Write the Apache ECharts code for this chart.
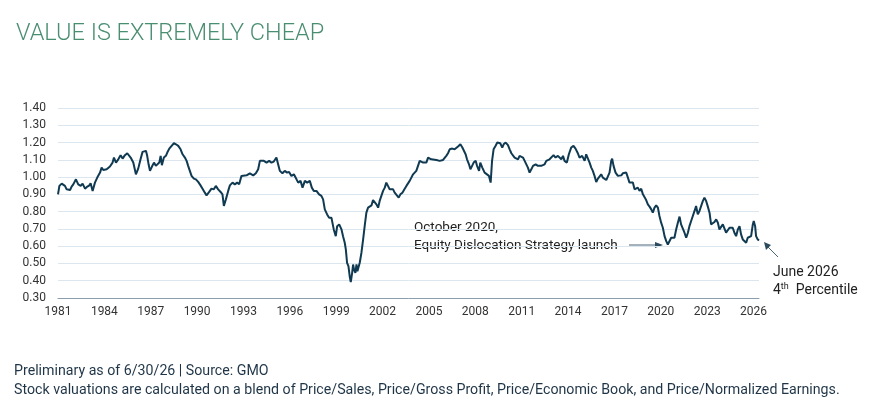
<!DOCTYPE html>
<html>
<head>
<meta charset="utf-8">
<script src="https://cdn.jsdelivr.net/npm/echarts@6/dist/echarts.min.js"></script>
<style>
  html, body { margin: 0; padding: 0; background: #fff; }
  #chart { width: 877px; height: 410px; }
</style>
</head>
<body>
<div id="chart"></div>
<script>
// composite valuation (decimal years)
var years = [
  1981.00, 1981.09, 1981.24, 1981.45, 1981.56, 1981.67, 1981.78, 1981.88, 1981.99, 1982.16,
  1982.31, 1982.47, 1982.59, 1982.75, 1982.90, 1983.03, 1983.11, 1983.24, 1983.39, 1983.54,
  1983.72, 1983.82, 1983.93, 1984.15, 1984.36, 1984.53, 1984.62, 1984.75, 1984.90, 1985.05,
  1985.18, 1985.33, 1985.48, 1985.59, 1985.70, 1985.87, 1986.04, 1986.19, 1986.34, 1986.47,
  1986.69, 1986.77, 1986.86, 1986.95, 1987.08, 1987.21, 1987.33, 1987.42, 1987.55, 1987.64,
  1987.72, 1987.85, 1987.98, 1988.07, 1988.20, 1988.35, 1988.50, 1988.63, 1988.78, 1988.93,
  1989.06, 1989.21, 1989.32, 1989.42, 1989.53, 1989.64, 1989.79, 1989.92, 1990.07, 1990.22,
  1990.35, 1990.50, 1990.61, 1990.78, 1990.93, 1991.08, 1991.21, 1991.36, 1991.52, 1991.64,
  1991.73, 1991.86, 1992.01, 1992.12, 1992.29, 1992.44, 1992.59, 1992.72, 1992.87, 1992.98,
  1993.20, 1993.41, 1993.63, 1993.80, 1993.95, 1994.06, 1994.17, 1994.32, 1994.49, 1994.66,
  1994.81, 1994.96, 1995.13, 1995.24, 1995.35, 1995.52, 1995.67, 1995.82, 1995.95, 1996.10,
  1996.26, 1996.43, 1996.54, 1996.69, 1996.82, 1996.97, 1997.12, 1997.29, 1997.42, 1997.55,
  1997.72, 1997.89, 1998.04, 1998.15, 1998.26, 1998.41, 1998.54, 1998.69, 1998.84, 1998.97,
  1999.06, 1999.19, 1999.34, 1999.44, 1999.55, 1999.62, 1999.70, 1999.79, 1999.87, 1999.94,
  2000.03, 2000.09, 2000.15, 2000.24, 2000.31, 2000.37, 2000.46, 2000.52, 2000.63, 2000.74,
  2000.84, 2000.95, 2001.06, 2001.17, 2001.28, 2001.38, 2001.49, 2001.60, 2001.71, 2001.81,
  2001.92, 2002.03, 2002.14, 2002.24, 2002.35, 2002.46, 2002.57, 2002.68, 2002.78, 2002.89,
  2003.04, 2003.15, 2003.28, 2003.43, 2003.54, 2003.65, 2003.75, 2003.86, 2003.97, 2004.08,
  2004.18, 2004.29, 2004.40, 2004.51, 2004.62, 2004.72, 2004.83, 2004.94, 2005.05, 2005.15,
  2005.26, 2005.48, 2005.69, 2005.91, 2006.02, 2006.12, 2006.23, 2006.34, 2006.51, 2006.66,
  2006.88, 2007.03, 2007.16, 2007.24, 2007.37, 2007.46, 2007.59, 2007.68, 2007.80, 2007.89,
  2008.02, 2008.11, 2008.24, 2008.32, 2008.45, 2008.60, 2008.71, 2008.88, 2008.99, 2009.08,
  2009.18, 2009.31, 2009.42, 2009.53, 2009.61, 2009.74, 2009.83, 2009.96, 2010.11, 2010.22,
  2010.33, 2010.43, 2010.54, 2010.65, 2010.76, 2010.86, 2010.97, 2011.08, 2011.19, 2011.29,
  2011.40, 2011.51, 2011.62, 2011.73, 2011.90, 2012.05, 2012.16, 2012.26, 2012.37, 2012.48,
  2012.59, 2012.70, 2012.80, 2012.91, 2013.06, 2013.19, 2013.34, 2013.45, 2013.56, 2013.67,
  2013.77, 2013.92, 2014.05, 2014.20, 2014.35, 2014.48, 2014.63, 2014.74, 2014.91, 2015.07,
  2015.17, 2015.28, 2015.39, 2015.50, 2015.60, 2015.71, 2015.82, 2015.93, 2016.03, 2016.14,
  2016.25, 2016.36, 2016.47, 2016.57, 2016.68, 2016.79, 2016.85, 2016.94, 2017.07, 2017.22,
  2017.33, 2017.44, 2017.54, 2017.65, 2017.76, 2017.87, 2017.97, 2018.08, 2018.19, 2018.30,
  2018.41, 2018.51, 2018.62, 2018.73, 2018.84, 2018.94, 2019.05, 2019.16, 2019.27, 2019.38,
  2019.48, 2019.59, 2019.70, 2019.81, 2019.91, 2020.02, 2020.13, 2020.24, 2020.35, 2020.45,
  2020.56, 2020.67, 2020.78, 2020.88, 2020.99, 2021.10, 2021.21, 2021.31, 2021.42, 2021.53,
  2021.64, 2021.75, 2021.85, 2021.96, 2022.07, 2022.18, 2022.28, 2022.39, 2022.50, 2022.61,
  2022.72, 2022.82, 2022.93, 2023.04, 2023.15, 2023.25, 2023.36, 2023.47, 2023.58, 2023.69,
  2023.79, 2023.90, 2024.01, 2024.12, 2024.22, 2024.33, 2024.44, 2024.55, 2024.65, 2024.76,
  2024.87, 2024.98, 2025.09, 2025.19, 2025.30, 2025.41, 2025.52, 2025.62, 2025.73, 2025.84,
  2025.95, 2026.01, 2026.10, 2026.16, 2026.27, 2026.35
];
var values = [
  0.900, 0.949, 0.962, 0.949, 0.929, 0.939, 0.925, 0.945, 0.958, 0.987,
  0.958, 0.949, 0.962, 0.933, 0.945, 0.952, 0.964, 0.920, 0.968, 0.997,
  1.026, 1.055, 1.041, 1.045, 1.061, 1.084, 1.113, 1.084, 1.103, 1.127,
  1.107, 1.127, 1.138, 1.146, 1.113, 1.084, 1.016, 1.049, 1.103, 1.146,
  1.152, 1.123, 1.074, 1.036, 1.061, 1.084, 1.065, 1.055, 1.084, 1.123,
  1.069, 1.113, 1.123, 1.142, 1.165, 1.181, 1.196, 1.190, 1.181, 1.161,
  1.132, 1.113, 1.094, 1.065, 1.036, 1.007, 0.991, 0.987, 0.972, 0.952,
  0.933, 0.910, 0.894, 0.914, 0.933, 0.929, 0.949, 0.929, 0.914, 0.900,
  0.833, 0.871, 0.920, 0.952, 0.968, 0.958, 0.968, 0.958, 1.007, 1.016,
  1.010, 1.022, 1.010, 1.022, 1.045, 1.094, 1.103, 1.094, 1.084, 1.094,
  1.084, 1.090, 1.113, 1.074, 1.036, 1.022, 1.036, 1.026, 1.030, 1.007,
  1.016, 0.987, 0.968, 0.978, 0.939, 0.978, 0.968, 0.978, 0.939, 0.920,
  0.920, 0.900, 0.891, 0.871, 0.813, 0.784, 0.765, 0.765, 0.697, 0.658,
  0.716, 0.726, 0.697, 0.658, 0.620, 0.581, 0.504, 0.484, 0.426, 0.392,
  0.446, 0.494, 0.465, 0.446, 0.494, 0.455, 0.446, 0.504, 0.562, 0.639,
  0.716, 0.794, 0.823, 0.829, 0.836, 0.867, 0.856, 0.842, 0.823, 0.862,
  0.891, 0.920, 0.939, 0.968, 0.958, 0.929, 0.920, 0.929, 0.910, 0.900,
  0.881, 0.900, 0.910, 0.933, 0.949, 0.958, 0.978, 0.997, 1.016, 1.026,
  1.036, 1.065, 1.094, 1.088, 1.084, 1.094, 1.084, 1.113, 1.123, 1.103,
  1.094, 1.099, 1.094, 1.099, 1.107, 1.123, 1.138, 1.161, 1.165, 1.161,
  1.177, 1.190, 1.171, 1.165, 1.132, 1.103, 1.074, 1.045, 1.055, 1.084,
  1.094, 1.065, 1.036, 1.084, 1.055, 1.026, 1.036, 1.007, 0.968, 1.094,
  1.161, 1.181, 1.200, 1.190, 1.196, 1.171, 1.190, 1.200, 1.185, 1.161,
  1.138, 1.132, 1.113, 1.119, 1.103, 1.123, 1.127, 1.113, 1.094, 1.084,
  1.055, 1.026, 1.045, 1.065, 1.074, 1.065, 1.055, 1.065, 1.069, 1.074,
  1.094, 1.084, 1.103, 1.107, 1.127, 1.113, 1.123, 1.127, 1.103, 1.123,
  1.094, 1.084, 1.132, 1.171, 1.181, 1.165, 1.138, 1.113, 1.123, 1.094,
  1.132, 1.123, 1.084, 1.055, 1.036, 1.007, 0.972, 0.991, 1.003, 1.016,
  0.997, 1.007, 0.983, 0.991, 1.026, 1.094, 1.107, 1.065, 1.026, 1.007,
  1.016, 1.010, 1.022, 1.016, 1.026, 0.997, 0.968, 0.958, 0.968, 0.929,
  0.920, 0.939, 0.920, 0.933, 0.900, 0.891, 0.867, 0.842, 0.829, 0.813,
  0.794, 0.823, 0.836, 0.823, 0.775, 0.736, 0.707, 0.658, 0.629, 0.610,
  0.620, 0.649, 0.655, 0.649, 0.697, 0.736, 0.771, 0.726, 0.716, 0.678,
  0.649, 0.678, 0.716, 0.746, 0.755, 0.804, 0.833, 0.784, 0.804, 0.833,
  0.862, 0.881, 0.862, 0.829, 0.794, 0.726, 0.726, 0.740, 0.755, 0.736,
  0.697, 0.707, 0.726, 0.736, 0.678, 0.687, 0.707, 0.697, 0.707, 0.678,
  0.658, 0.697, 0.716, 0.668, 0.639, 0.639, 0.620, 0.649, 0.639, 0.658,
  0.726, 0.746, 0.716, 0.658, 0.639, 0.633
];
var baseYear = 1981;
var yTicks = [0.3, 1.4, 0.1]; // min, max, step

var seriesData = [];
for (var i = 0; i < years.length; i++) {
  seriesData.push([years[i] - baseYear, values[i]]);
}

var fontFam = 'Roboto, "Liberation Sans", sans-serif';
var chart = echarts.init(document.getElementById('chart'));

chart.setOption({
  animation: false,
  grid: { left: 58, right: 118, top: 108, bottom: 112 },
  xAxis: {
    type: 'value',
    min: 0,
    max: years[years.length - 1] - baseYear,
    interval: 3,
    axisLine: { show: true, lineStyle: { color: '#8a9eae', width: 1 } },
    axisTick: { show: false },
    splitLine: { show: false },
    axisLabel: {
      color: '#333',
      fontFamily: fontFam,
      fontSize: 12,
      margin: 8,
      showMaxLabel: false,
      formatter: function (v) {
        return (Math.abs(v % 3) < 1e-6) ? String(baseYear + Math.round(v)) : '';
      }
    }
  },
  yAxis: {
    type: 'value',
    min: yTicks[0],
    max: yTicks[1],
    interval: yTicks[2],
    axisLine: { show: false },
    axisTick: { show: false },
    splitLine: { show: true, lineStyle: { color: '#dbe6ee', width: 1 } },
    axisLabel: {
      color: '#333',
      fontFamily: fontFam,
      fontSize: 12,
      margin: 12,
      formatter: function (v) { return v.toFixed(2); }
    }
  },
  series: [{
    type: 'line',
    data: seriesData,
    showSymbol: false,
    symbol: 'none',
    lineStyle: { color: '#103a51', width: 2 },
    z: 3
  }],
  graphic: [
    // title
    {
      type: 'text', left: 16, top: 22,
      style: { text: 'VALUE IS EXTREMELY CHEAP', fill: '#4a8e72', font: '300 23.5px ' + fontFam }
    },
    // annotation: Oct 2020
    {
      type: 'text', left: 414, top: 219,
      style: { text: 'October 2020,\nEquity Dislocation Strategy launch', fill: '#222', font: '13.5px ' + fontFam, lineHeight: 18 }
    },
    {
      type: 'line', shape: { x1: 629, y1: 245, x2: 656, y2: 245 },
      style: { stroke: '#4a6577', lineWidth: 1 }
    },
    {
      type: 'polygon', shape: { points: [[663, 245], [655, 242], [655, 248]] },
      style: { fill: '#2c4a5e' }
    },
    // annotation: June 2026
    {
      type: 'text', left: 773, top: 263,
      style: {
        text: 'June 2026\n4{sup|th}  Percentile',
        fill: '#222', font: '14px ' + fontFam, lineHeight: 18,
        rich: { sup: { fontSize: 9, fontFamily: fontFam, fill: '#222', padding: [0, 0, 7, 0] } }
      }
    },
    {
      type: 'line', shape: { x1: 778, y1: 257, x2: 768, y2: 247 },
      style: { stroke: '#4a6577', lineWidth: 1 }
    },
    {
      type: 'polygon', shape: { points: [[764, 242], [766, 250], [771, 245]] },
      style: { fill: '#2c4a5e' }
    },
    // footnotes
    {
      type: 'text', left: 14, top: 364,
      style: { text: 'Preliminary as of 6/30/26 | Source: GMO', fill: '#1f3547', font: '14.2px ' + fontFam }
    },
    {
      type: 'text', left: 14, top: 383,
      style: { text: 'Stock valuations are calculated on a blend of Price/Sales, Price/Gross Profit, Price/Economic Book, and Price/Normalized Earnings.', fill: '#1f3547', font: '14.2px ' + fontFam }
    }
  ]
});
</script>
</body>
</html>
